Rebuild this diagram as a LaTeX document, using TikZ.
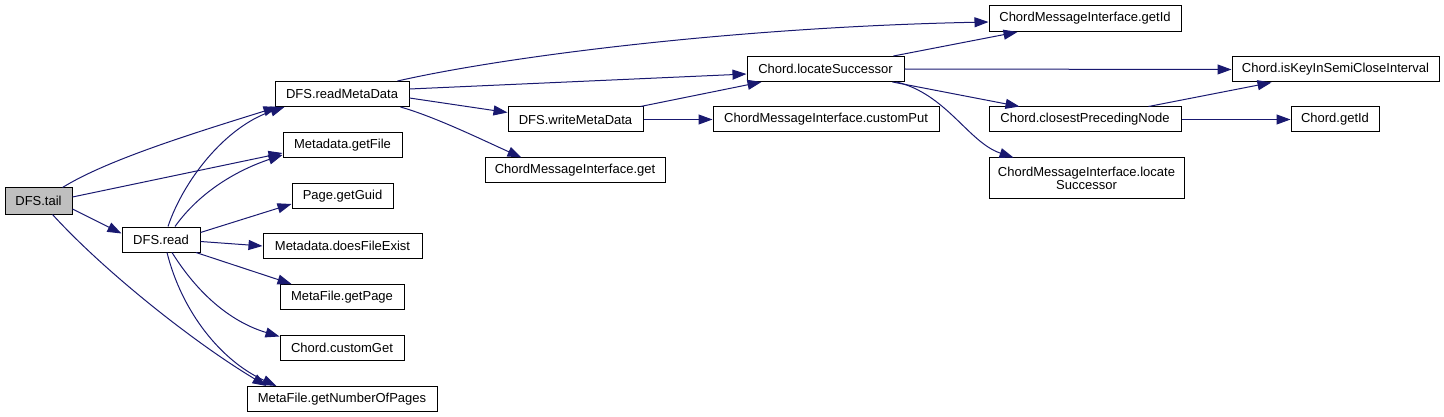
\documentclass[tikz,border=0pt]{standalone}
\usepackage{fontspec}
\setmainfont{Liberation Sans}
\usepackage{xcolor}
\usetikzlibrary{arrows.meta}

\definecolor{edgeblue}{HTML}{191970}

\begin{document}
\begin{tikzpicture}[
    x=1pt, y=-1pt,
    every node/.style={font=\fontsize{13}{14}\selectfont},
    box/.style={rectangle, draw=black, line width=1pt, align=center, inner sep=0pt, fill=#1, minimum height=25pt},
    box/.default=white,
    rootbox/.style={box=gray!50},
    arr/.style={-{Triangle[length=14pt, width=10pt]}, line width=1pt, draw=edgeblue},
]
    \useasboundingbox (0,0) rectangle (1444,417);

    % --- nodes (pixel coordinates, column by column) ---
    \node[rootbox, minimum width=67pt, minimum height=26pt] (tail) at (38.5, 201) {DFS.tail};

    \node[box, minimum width=78pt] (rd) at (161, 239.5) {DFS.read};

    \node[box, minimum width=134pt] (rmd)   at (342, 94)    {DFS.readMetaData};
    \node[box, minimum width=119pt] (gfile) at (342.5, 145) {Metadata.getFile};
    \node[box, minimum width=101pt] (guid)  at (342.5, 196) {Page.getGuid};
    \node[box, minimum width=159pt] (exist) at (342.5, 246) {Metadata.doesFileExist};
    \node[box, minimum width=124pt] (gpage) at (342, 297)   {MetaFile.getPage};
    \node[box, minimum width=124pt] (cget)  at (342, 347.5) {Chord.customGet};
    \node[box, minimum width=190pt] (npage) at (342, 399)   {MetaFile.getNumberOfPages};

    \node[box, minimum width=135pt] (wmd)  at (575.5, 119.5) {DFS.writeMetaData};
    \node[box, minimum width=180pt] (mget) at (575, 170.5)   {ChordMessageInterface.get};

    \node[box, minimum width=157pt] (locs) at (825.5, 69)    {Chord.locateSuccessor};
    \node[box, minimum width=226pt] (mput) at (826, 119.5)   {ChordMessageInterface.customPut};

    \node[box, minimum width=192pt, minimum height=26pt] (mid) at (1085, 18.5) {ChordMessageInterface.getId};
    \node[box, minimum width=192pt] (cpn) at (1085, 119.5) {Chord.closestPrecedingNode};
    \node[box, minimum width=195pt, minimum height=41pt] (mloc) at (1086.5, 178.5)
        {ChordMessageInterface.locate\\[-1pt]Successor};

    \node[box, minimum width=207pt] (iskey) at (1335.5, 69.5)  {Chord.isKeyInSemiCloseInterval};
    \node[box, minimum width=88pt]  (cid)   at (1335, 119.5)   {Chord.getId};

    % --- arrows ---
    % DFS.tail
    \draw[arr] ([xshift=-10pt]tail.north east) .. controls +(45,-28) and +(-80,25) .. ([xshift=3pt]rmd.south west);
    \draw[arr] ([yshift=4pt]tail.east) -- ([yshift=-8pt]gfile.west);
    \draw[arr] ([yshift=-8pt]tail.east) -- ([yshift=6pt]rd.west);
    \draw[arr] ([xshift=14pt]tail.south) .. controls +(50,55) and +(-75,-45) .. ([xshift=20pt]npage.north west);

    % DFS.read
    \draw[arr] ([xshift=7pt]rd.north) .. controls +(15,-45) and +(-60,20) .. ([xshift=10pt]rmd.south west);
    \draw[arr] ([xshift=14pt]rd.north) .. controls +(25,-35) and +(-45,15) .. ([yshift=-10pt]gfile.west);
    \draw[arr] ([yshift=7pt]rd.east) -- ([yshift=-8pt]guid.west);
    \draw[arr] ([yshift=-2pt]rd.east) -- (exist.west);
    \draw[arr] ([xshift=35pt]rd.south) -- ([xshift=12pt]gpage.north west);
    \draw[arr] ([xshift=11pt]rd.south) .. controls +(25,40) and +(-50,-15) .. ([yshift=11pt]cget.west);
    \draw[arr] ([xshift=6pt]rd.south) .. controls +(15,60) and +(-55,-25) .. ([xshift=30pt]npage.north west);

    % DFS.readMetaData
    \draw[arr] ([xshift=-12pt]rmd.north east) .. controls +(110,-25) and +(-250,5) .. ([yshift=-3.5pt]mid.west);
    \draw[arr] ([yshift=5pt]rmd.east) -- ([yshift=-5pt]locs.west);
    \draw[arr] ([yshift=-4pt]rmd.east) -- ([yshift=7pt]wmd.west);
    \draw[arr] ([xshift=-9pt]rmd.south east) .. controls +(35,10) and +(-40,-18) .. ([xshift=37pt]mget.north west);

    % DFS.writeMetaData
    \draw[arr] ([xshift=-3pt]wmd.north east) -- ([xshift=15pt]locs.south west);
    \draw[arr] (wmd.east) -- (mput.west);

    % Chord.locateSuccessor
    \draw[arr] ([xshift=-11pt]locs.north east) -- ([xshift=29pt]mid.south west);
    \draw[arr] (locs.east) -- (iskey.west);
    \draw[arr] ([xshift=-12pt]locs.south east) -- ([xshift=31pt]cpn.north west);
    \draw[arr] ([xshift=-8pt]locs.south east) .. controls +(50,12) and +(-45,-15) .. ([xshift=25pt]mloc.north west);

    % Chord.closestPrecedingNode
    \draw[arr] ([xshift=-33pt]cpn.north east) -- ([xshift=40pt]iskey.south west);
    \draw[arr] (cpn.east) -- (cid.west);
\end{tikzpicture}
\end{document}
